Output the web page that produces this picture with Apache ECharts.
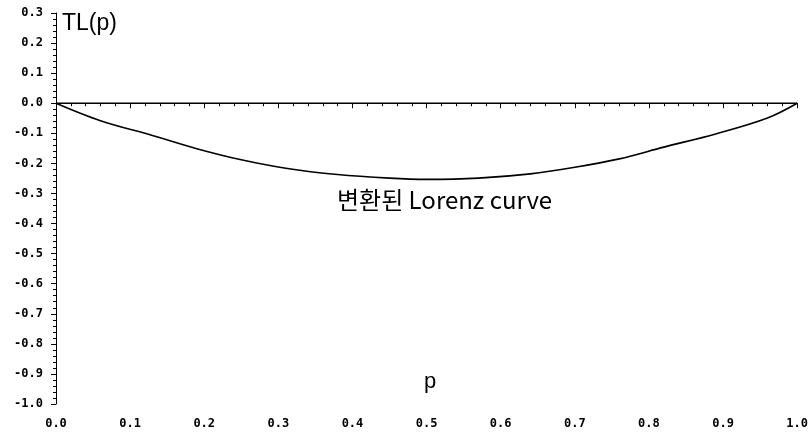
<!DOCTYPE html>
<html>
<head>
<meta charset="utf-8">
<script src="https://cdn.jsdelivr.net/npm/echarts@6/dist/echarts.min.js"></script>
<style>
  html, body { margin: 0; padding: 0; background: #fff; }
  #chart { width: 811px; height: 441px; }
</style>
</head>
<body>
<div id="chart"></div>
<script>
// p 값과 변환된 Lorenz curve 값
var pValues = [0, 0.06, 0.13, 0.19, 0.25, 0.31, 0.38, 0.45, 0.50, 0.57, 0.64, 0.70, 0.76, 0.82, 0.89, 0.96, 1.0];
var tlValues = [0, -0.058, -0.107, -0.151, -0.188, -0.216, -0.237, -0.249, -0.253, -0.249, -0.235, -0.213, -0.185, -0.146, -0.102, -0.049, 0];
// 기준선 TL(p) = 0
var baseP = [0, 1.0];
var baseTL = [0, 0];

var curveData = [];
for (var i = 0; i < pValues.length; i++) curveData.push([pValues[i], tlValues[i]]);
var baseData = [];
for (var j = 0; j < baseP.length; j++) baseData.push([baseP[j], baseTL[j]]);

var chart = echarts.init(document.getElementById('chart'));
var tickFont = {
  color: '#000',
  fontFamily: 'DejaVu Sans Mono',
  fontWeight: 'bold',
  fontSize: 12
};

var option = {
  animation: false,
  backgroundColor: '#fff',
  grid: { left: 56, right: 8, top: 13, bottom: 37 },
  xAxis: {
    type: 'value',
    min: 0, max: 1.0, interval: 0.1,
    offset: 5,
    axisLine: { lineStyle: { color: '#000', width: 1 } },
    axisTick: { length: 5, lineStyle: { color: '#000' } },
    minorTick: { show: true, splitNumber: 5, length: 3, lineStyle: { color: '#000' } },
    splitLine: { show: false },
    axisLabel: Object.assign({ margin: 9, formatter: function (v) { return v.toFixed(1); } }, tickFont)
  },
  yAxis: {
    type: 'value',
    min: -1.0, max: 0.3, interval: 0.1,
    offset: 3,
    axisLine: { show: true, lineStyle: { color: '#000', width: 1 } },
    axisTick: { show: true, length: 5, lineStyle: { color: '#000' } },
    minorTick: { show: true, splitNumber: 5, length: 3, lineStyle: { color: '#000' } },
    splitLine: { show: false },
    axisLabel: Object.assign({ margin: 10, formatter: function (v) { return v.toFixed(1); } }, tickFont)
  },
  graphic: [
    { type: 'text', left: 62, top: 12, style: { text: 'TL(p)', fontFamily: 'Liberation Sans', fontSize: 23, fill: '#000' } },
    { type: 'text', left: 337, top: 188, style: { text: '변환된 Lorenz curve', fontFamily: 'Noto Sans CJK KR', fontSize: 24, fill: '#000' } },
    { type: 'text', left: 424, top: 371, style: { text: 'p', fontFamily: 'Liberation Sans', fontSize: 22, fill: '#000' } }
  ],
  series: [
    {
      type: 'line',
      data: baseData,
      symbol: 'none',
      lineStyle: { color: '#000', width: 1.3 }
    },
    {
      type: 'line',
      data: curveData,
      smooth: 0.35,
      symbol: 'none',
      lineStyle: { color: '#000', width: 1.6 }
    }
  ]
};
chart.setOption(option);
</script>
</body>
</html>
